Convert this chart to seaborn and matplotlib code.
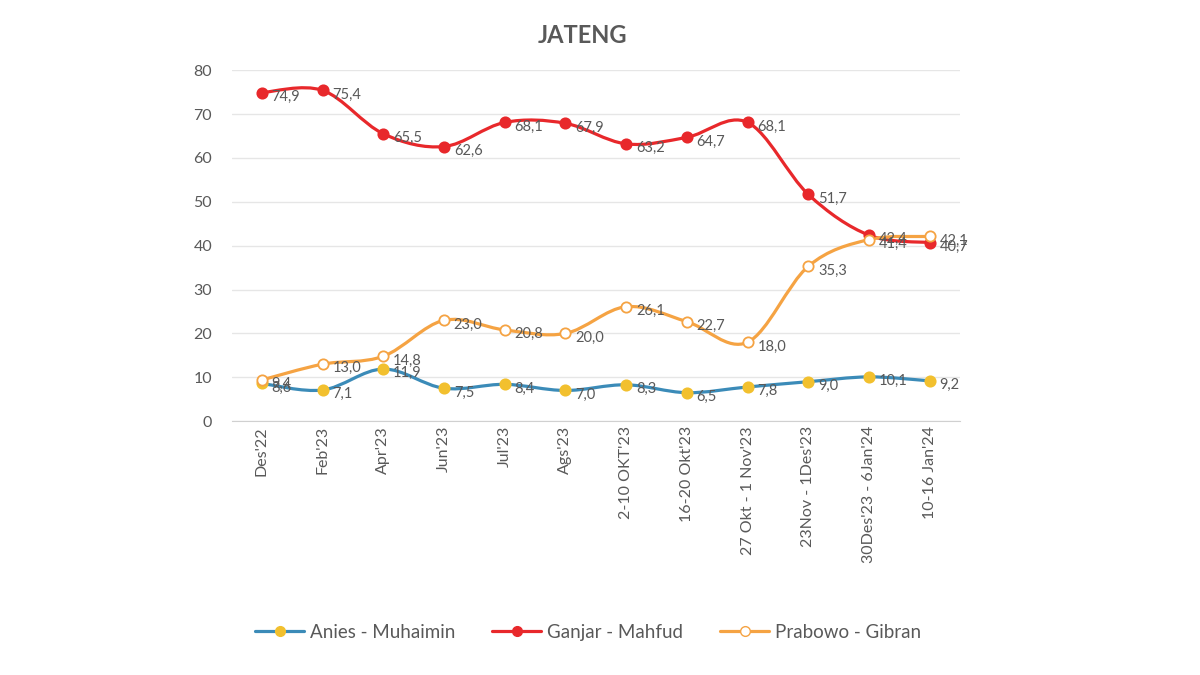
import numpy as np
import pandas as pd
import matplotlib
matplotlib.use('Agg')
import matplotlib.pyplot as plt
from matplotlib.path import Path
from matplotlib.patches import PathPatch
from matplotlib.lines import Line2D
import seaborn as sns

# data
periode = ["Des'22", "Feb'23", "Apr'23", "Jun'23", "Jul'23", "Ags'23", "2-10 OKT'23",
           "16-20 Okt'23", "27 Okt - 1 Nov'23", "23Nov - 1Des'23", "30Des'23 - 6Jan'24",
           "10-16 Jan'24"]
anies = [8.6, 7.1, 11.9, 7.5, 8.4, 7.0, 8.3, 6.5, 7.8, 9.0, 10.1, 9.2]
ganjar = [74.9, 75.4, 65.5, 62.6, 68.1, 67.9, 63.2, 64.7, 68.1, 51.7, 42.4, 40.7]
prabowo = [9.4, 13.0, 14.8, 23.0, 20.8, 20.0, 26.1, 22.7, 18.0, 35.3, 41.4, 42.1]

seri = {
    'Anies - Muhaimin': (anies, '#3B8BB8', '#F2C02E', '#F2C02E'),
    'Ganjar - Mahfud': (ganjar, '#E8282B', '#E8282B', '#E8282B'),
    'Prabowo - Gibran': (prabowo, '#F5A343', 'white', '#F5A343'),
}

sns.set_style('white')
plt.rcParams['font.family'] = ['Lato', 'DejaVu Sans']

fig = plt.figure(figsize=(12, 6.75), dpi=100)
ax = fig.add_axes([0.193, 0.376, 0.607, 0.52])

def kurva(xs, ys):
    # kurva halus ala excel (bezier catmull-rom)
    xs = np.asarray(xs, float); ys = np.asarray(ys, float)
    pts = np.column_stack([xs, ys])
    verts = [pts[0]]
    codes = [Path.MOVETO]
    n = len(pts)
    for i in range(n - 1):
        p0 = pts[max(i - 1, 0)]; p1 = pts[i]; p2 = pts[i + 1]; p3 = pts[min(i + 2, n - 1)]
        c1 = p1 + (p2 - p0) / 6.0
        c2 = p2 - (p3 - p1) / 6.0
        verts += [c1, c2, p2]
        codes += [Path.CURVE4] * 3
    return Path(verts, codes)

x = np.arange(len(periode))
handles = []
for nama, (vals, warna, isi, tepi) in seri.items():
    ax.add_patch(PathPatch(kurva(x, vals), fill=False, edgecolor=warna, lw=2.3, zorder=3))
    df = pd.DataFrame({'x': x, 'y': vals})
    sns.scatterplot(data=df, x='x', y='y', ax=ax, s=55, color=isi, edgecolor=tepi,
                    linewidth=1.3, zorder=4)
    for xi, yi in zip(x, vals):
        ax.annotate(f'{yi:.1f}'.replace('.', ','), (xi, yi), xytext=(7, -3),
                    textcoords='offset points', ha='left', va='center',
                    fontsize=10.5, color='#595959', zorder=5)
    handles.append(Line2D([], [], color=warna, lw=2.3, marker='o', markersize=7,
                          markerfacecolor=isi, markeredgecolor=tepi, label=nama))

ax.set_xlim(-0.5, len(periode) - 0.5)
ax.set_ylim(0, 80)
ax.set_yticks(range(0, 81, 10))
ax.set_xticks(x)
ax.set_xticklabels(periode, rotation=90)
ax.tick_params(axis='both', labelsize=11.5, colors='#595959', length=0)
ax.tick_params(axis='y', pad=14)
ax.set_xlabel('')
ax.set_ylabel('')
ax.grid(axis='y', color='#E6E6E6', lw=1)
for s in ['top', 'right', 'left']:
    ax.spines[s].set_visible(False)
ax.spines['bottom'].set_color('#D0D0D0')

fig.text(0.485, 0.948, 'JATENG', ha='center', va='center', fontsize=17,
         fontweight='bold', color='#595959')

fig.legend(handles=handles, loc='center', bbox_to_anchor=(0.49, 0.063), ncol=3,
           frameon=False, fontsize=13.5, labelcolor='#595959', handlelength=2.6,
           columnspacing=2.0, handletextpad=0.3)

fig.savefig('out.png', dpi=100, facecolor='white')
